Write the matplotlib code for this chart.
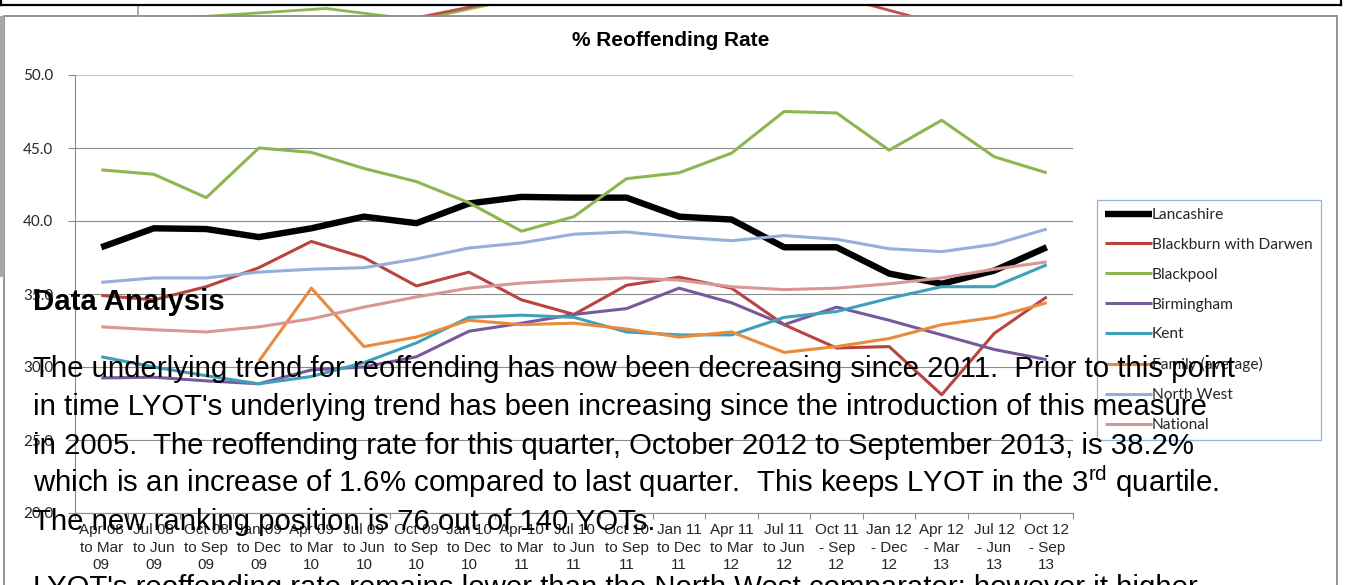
import matplotlib
matplotlib.use("Agg")
import matplotlib.pyplot as plt
from matplotlib.patches import Rectangle
import numpy as np

# ---------------- data ----------------
periods = ["Apr 08\nto Mar\n09", "Jul 08\nto Jun\n09", "Oct 08\nto Sep\n09", "Jan 09\nto Dec\n09",
           "Apr 09\nto Mar\n10", "Jul 09\nto Jun\n10", "Oct 09\nto Sep\n10", "Jan 10\nto Dec\n10",
           "Apr 10\nto Mar\n11", "Jul 10\nto Jun\n11", "Oct 10\nto Sep\n11", "Jan 11\nto Dec\n11",
           "Apr 11\nto Mar\n12", "Jul 11\nto Jun\n12", "Oct 11\n- Sep\n12", "Jan 12\n- Dec\n12",
           "Apr 12\n- Mar\n13", "Jul 12\n- Jun\n13", "Oct 12\n- Sep\n13"]

lancashire = [38.2, 39.5, 39.45, 38.9, 39.5, 40.3, 39.85, 41.2, 41.65, 41.6, 41.6, 40.3, 40.1, 38.2, 38.2, 36.4, 35.7, 36.6, 38.2]
blackburn = [34.9, 34.6, 35.5, 36.8, 38.6, 37.5, 35.55, 36.5, 34.6, 33.6, 35.6, 36.15, 35.4, 32.9, 31.3, 31.4, 28.1, 32.3, 34.8]
blackpool = [43.5, 43.2, 41.6, 45.0, 44.7, 43.6, 42.7, 41.25, 39.3, 40.3, 42.9, 43.3, 44.65, 47.5, 47.4, 44.85, 46.9, 44.4, 43.3]
birmingham = [29.25, 29.3, 29.05, 28.85, 29.8, 30.0, 30.7, 32.45, 33.0, 33.6, 34.0, 35.4, 34.4, 32.9, 34.1, 33.2, 32.2, 31.2, 30.5]
kent = [30.7, 30.0, 29.4, 28.85, 29.35, 30.3, 31.65, 33.4, 33.55, 33.4, 32.4, 32.2, 32.2, 33.4, 33.8, 34.7, 35.5, 35.5, 37.0]
family = [np.nan, np.nan, np.nan, 30.4, 35.4, 31.4, 32.05, 33.2, 32.9, 33.0, 32.6, 32.05, 32.4, 31.0, 31.4, 31.95, 32.9, 33.4, 34.4]
north_west = [35.8, 36.1, 36.1, 36.5, 36.7, 36.8, 37.4, 38.15, 38.5, 39.1, 39.25, 38.9, 38.65, 39.0, 38.75, 38.1, 37.9, 38.4, 39.45]
national = [32.75, 32.55, 32.4, 32.75, 33.3, 34.1, 34.8, 35.4, 35.75, 35.95, 36.1, 35.95, 35.5, 35.3, 35.4, 35.7, 36.1, 36.7, 37.2]

series_names = ["Lancashire", "Blackburn with Darwen", "Blackpool", "Birmingham", "Kent",
                "Family (average)", "North West", "National"]
y_ticks = [20, 25, 30, 35, 40, 45, 50]

# fragments of the previous chart peeking in at the top
prev_x = [120, 326, 418, 520]
prev_green = [22, 8.5, 20, -2]
prev_red_x = [380, 520]
prev_red = [25, -3]
prev_red2_x = [840, 940]
prev_red2 = [-3, 24]

title = "% Reoffending Rate"
heading = "Data Analysis"
para_lines = [
    "The underlying trend for reoffending has now been decreasing since 2011.  Prior to this point",
    "in time LYOT's underlying trend has been increasing since the introduction of this measure",
    "in 2005.  The reoffending rate for this quarter, October 2012 to September 2013, is 38.2%",
    r"which is an increase of 1.6% compared to last quarter.  This keeps LYOT in the 3$^{\mathrm{rd}}$ quartile.",
    "The new ranking position is 76 out of 140 YOTs.",
]
last_line = "LYOT's reoffending rate remains lower than the North West comparator; however it higher"

# ---------------- styles ----------------
colors = ["#000000", "#B8433F", "#8DB651", "#775A9C", "#3FA0BA", "#EA8A3C", "#93AFDA", "#D99696"]
widths = [4.6, 2.2, 2.2, 2.2, 2.2, 2.2, 2.2, 2.2]

plt.rcParams["mathtext.fontset"] = "custom"
plt.rcParams["mathtext.rm"] = "Liberation Sans"
plt.rcParams["mathtext.it"] = "Liberation Sans:italic"
plt.rcParams["mathtext.bf"] = "Liberation Sans:bold"

W, H = 1352, 585
fig = plt.figure(figsize=(W / 100, H / 100), dpi=100)
fig.patch.set_facecolor("white")


def fx(px):
    return px / W


def fy(py):
    return 1 - py / H


# ----- top strip (previous chart) -----
axp = fig.add_axes([0, fy(16), 1, fy(5) - fy(16)])
axp.set_xlim(0, W)
axp.set_ylim(16, 5)
axp.axis("off")
axp.plot(prev_x, prev_green, color="#8DB651", lw=2.0)
axp.plot(prev_red_x, prev_red, color="#C0504D", lw=2.0)
axp.plot(prev_red2_x, prev_red2, color="#C0504D", lw=2.0)
fig.add_artist(plt.Line2D([fx(138), fx(138)], [fy(5), fy(16)], transform=fig.transFigure,
                          color="#A0A0A0", lw=1.2))
fig.add_artist(plt.Line2D([0, fx(1341)], [fy(4.5), fy(4.5)], transform=fig.transFigure,
                          color="black", lw=1.6))
fig.add_artist(plt.Line2D([fx(1341), fx(1341)], [fy(0), fy(4.5)], transform=fig.transFigure,
                          color="black", lw=1.6))
fig.add_artist(plt.Line2D([fx(1.0), fx(1.0)], [fy(0), fy(4.5)], transform=fig.transFigure,
                          color="black", lw=1.6))

# ----- chart box -----
fig.add_artist(Rectangle((fx(3.5), fy(600)), fx(1337) - fx(3.5), fy(16) - fy(600),
                         transform=fig.transFigure, fill=False, edgecolor="#8C8C8C", lw=1.3))
fig.add_artist(Rectangle((fx(0), fy(277)), fx(3.5), fy(16) - fy(277),
                         transform=fig.transFigure, facecolor="#A8A8A8", edgecolor="none"))

# ----- main axes -----
ax = fig.add_axes([fx(75), fy(513), fx(1073) - fx(75), fy(75) - fy(513)])
x = np.arange(len(periods))
data = [lancashire, blackburn, blackpool, birmingham, kent, family, north_west, national]
handles = []
for name, vals, c, w in zip(series_names, data, colors, widths):
    ln, = ax.plot(x, vals, color=c, lw=w, label=name, solid_joinstyle="round",
                  solid_capstyle="butt")
    handles.append(ln)

ax.set_xlim(-0.5, len(periods) - 0.5)
ax.set_ylim(y_ticks[0], y_ticks[-1])
ax.set_yticks(y_ticks)
ax.set_yticklabels([f"{v:.1f}" for v in y_ticks], fontsize=11, family="Lato", color="#262626")
ax.tick_params(axis="y", direction="out", length=5, width=0.8, color="#8C8C8C", pad=10.5)
ax.set_xticks(x)
ax.set_xticklabels(periods, fontsize=11, family="Liberation Sans", color="#262626")
for t in ax.get_xticklabels():
    t.set_linespacing(1.32)
ax.tick_params(axis="x", which="major", length=0, pad=7.5)
ax.set_xticks(np.arange(-0.5, len(periods), 1.0), minor=True)
ax.tick_params(axis="x", which="minor", direction="out", length=4, width=0.8, color="#8C8C8C")

ax.yaxis.grid(True, color="#8C8C8C", lw=0.8)
ax.get_ygridlines()[-1].set_color("#C8C8C8")
ax.set_axisbelow(True)
for s in ["top", "right"]:
    ax.spines[s].set_visible(False)
for s in ["left", "bottom"]:
    ax.spines[s].set_color("#8C8C8C")
    ax.spines[s].set_linewidth(0.8)

fig.text(fx(670.5), fy(41), title, ha="center", va="center", fontsize=15,
         weight="bold", family="Liberation Sans", color="black")

# ----- legend -----
fs_pt = 11.2
fs_px = fs_pt * 100 / 72


def make_legend(bp_px, ls_px):
    lg = fig.legend(handles=handles, labels=series_names, loc="upper left",
                    bbox_to_anchor=(fx(1097), fy(200)), bbox_transform=fig.transFigure,
                    frameon=True, fancybox=False, framealpha=1, edgecolor="#95B3D7",
                    borderaxespad=0, borderpad=bp_px / fs_px, labelspacing=ls_px / fs_px,
                    handleheight=0.7, handlelength=47 / fs_px, handletextpad=0.0,
                    prop={"family": "Lato", "size": fs_pt})
    lg.get_frame().set_linewidth(0.9)
    for t in lg.get_texts():
        t.set_color("#262626")
    return lg


def text_centers(lg):
    fig.canvas.draw()
    r = fig.canvas.get_renderer()
    out = []
    for t in lg.get_texts():
        bb = t.get_window_extent(r)
        out.append(H - (bb.y0 + bb.y1) / 2)
    return out


bp, ls = 6.0, 12.0
leg = make_legend(bp, ls)
ys = text_centers(leg)
ls = ls + (30 - (ys[-1] - ys[0]) / 7)
leg.remove()
leg = make_legend(bp, ls)
ys = text_centers(leg)
bp = bp + (215 - ys[0])
leg.remove()
leg = make_legend(bp, ls)

# ----- overlaid text -----
fs_txt = 21.2
fig.text(fx(33), fy(310), heading, ha="left", va="baseline", fontsize=fs_txt, weight="bold",
         family="Liberation Sans", color="black", zorder=10)
baselines = [377, 415, 454, 492, 530]
for line, b in zip(para_lines, baselines):
    fig.text(fx(33), fy(b), line, ha="left", va="baseline", fontsize=fs_txt,
             family="Liberation Sans", color="black", zorder=10)
fig.text(fx(33), fy(596), last_line, ha="left", va="baseline", fontsize=fs_txt,
         family="Liberation Sans", color="black", zorder=10)

fig.savefig("out.png", dpi=100)
